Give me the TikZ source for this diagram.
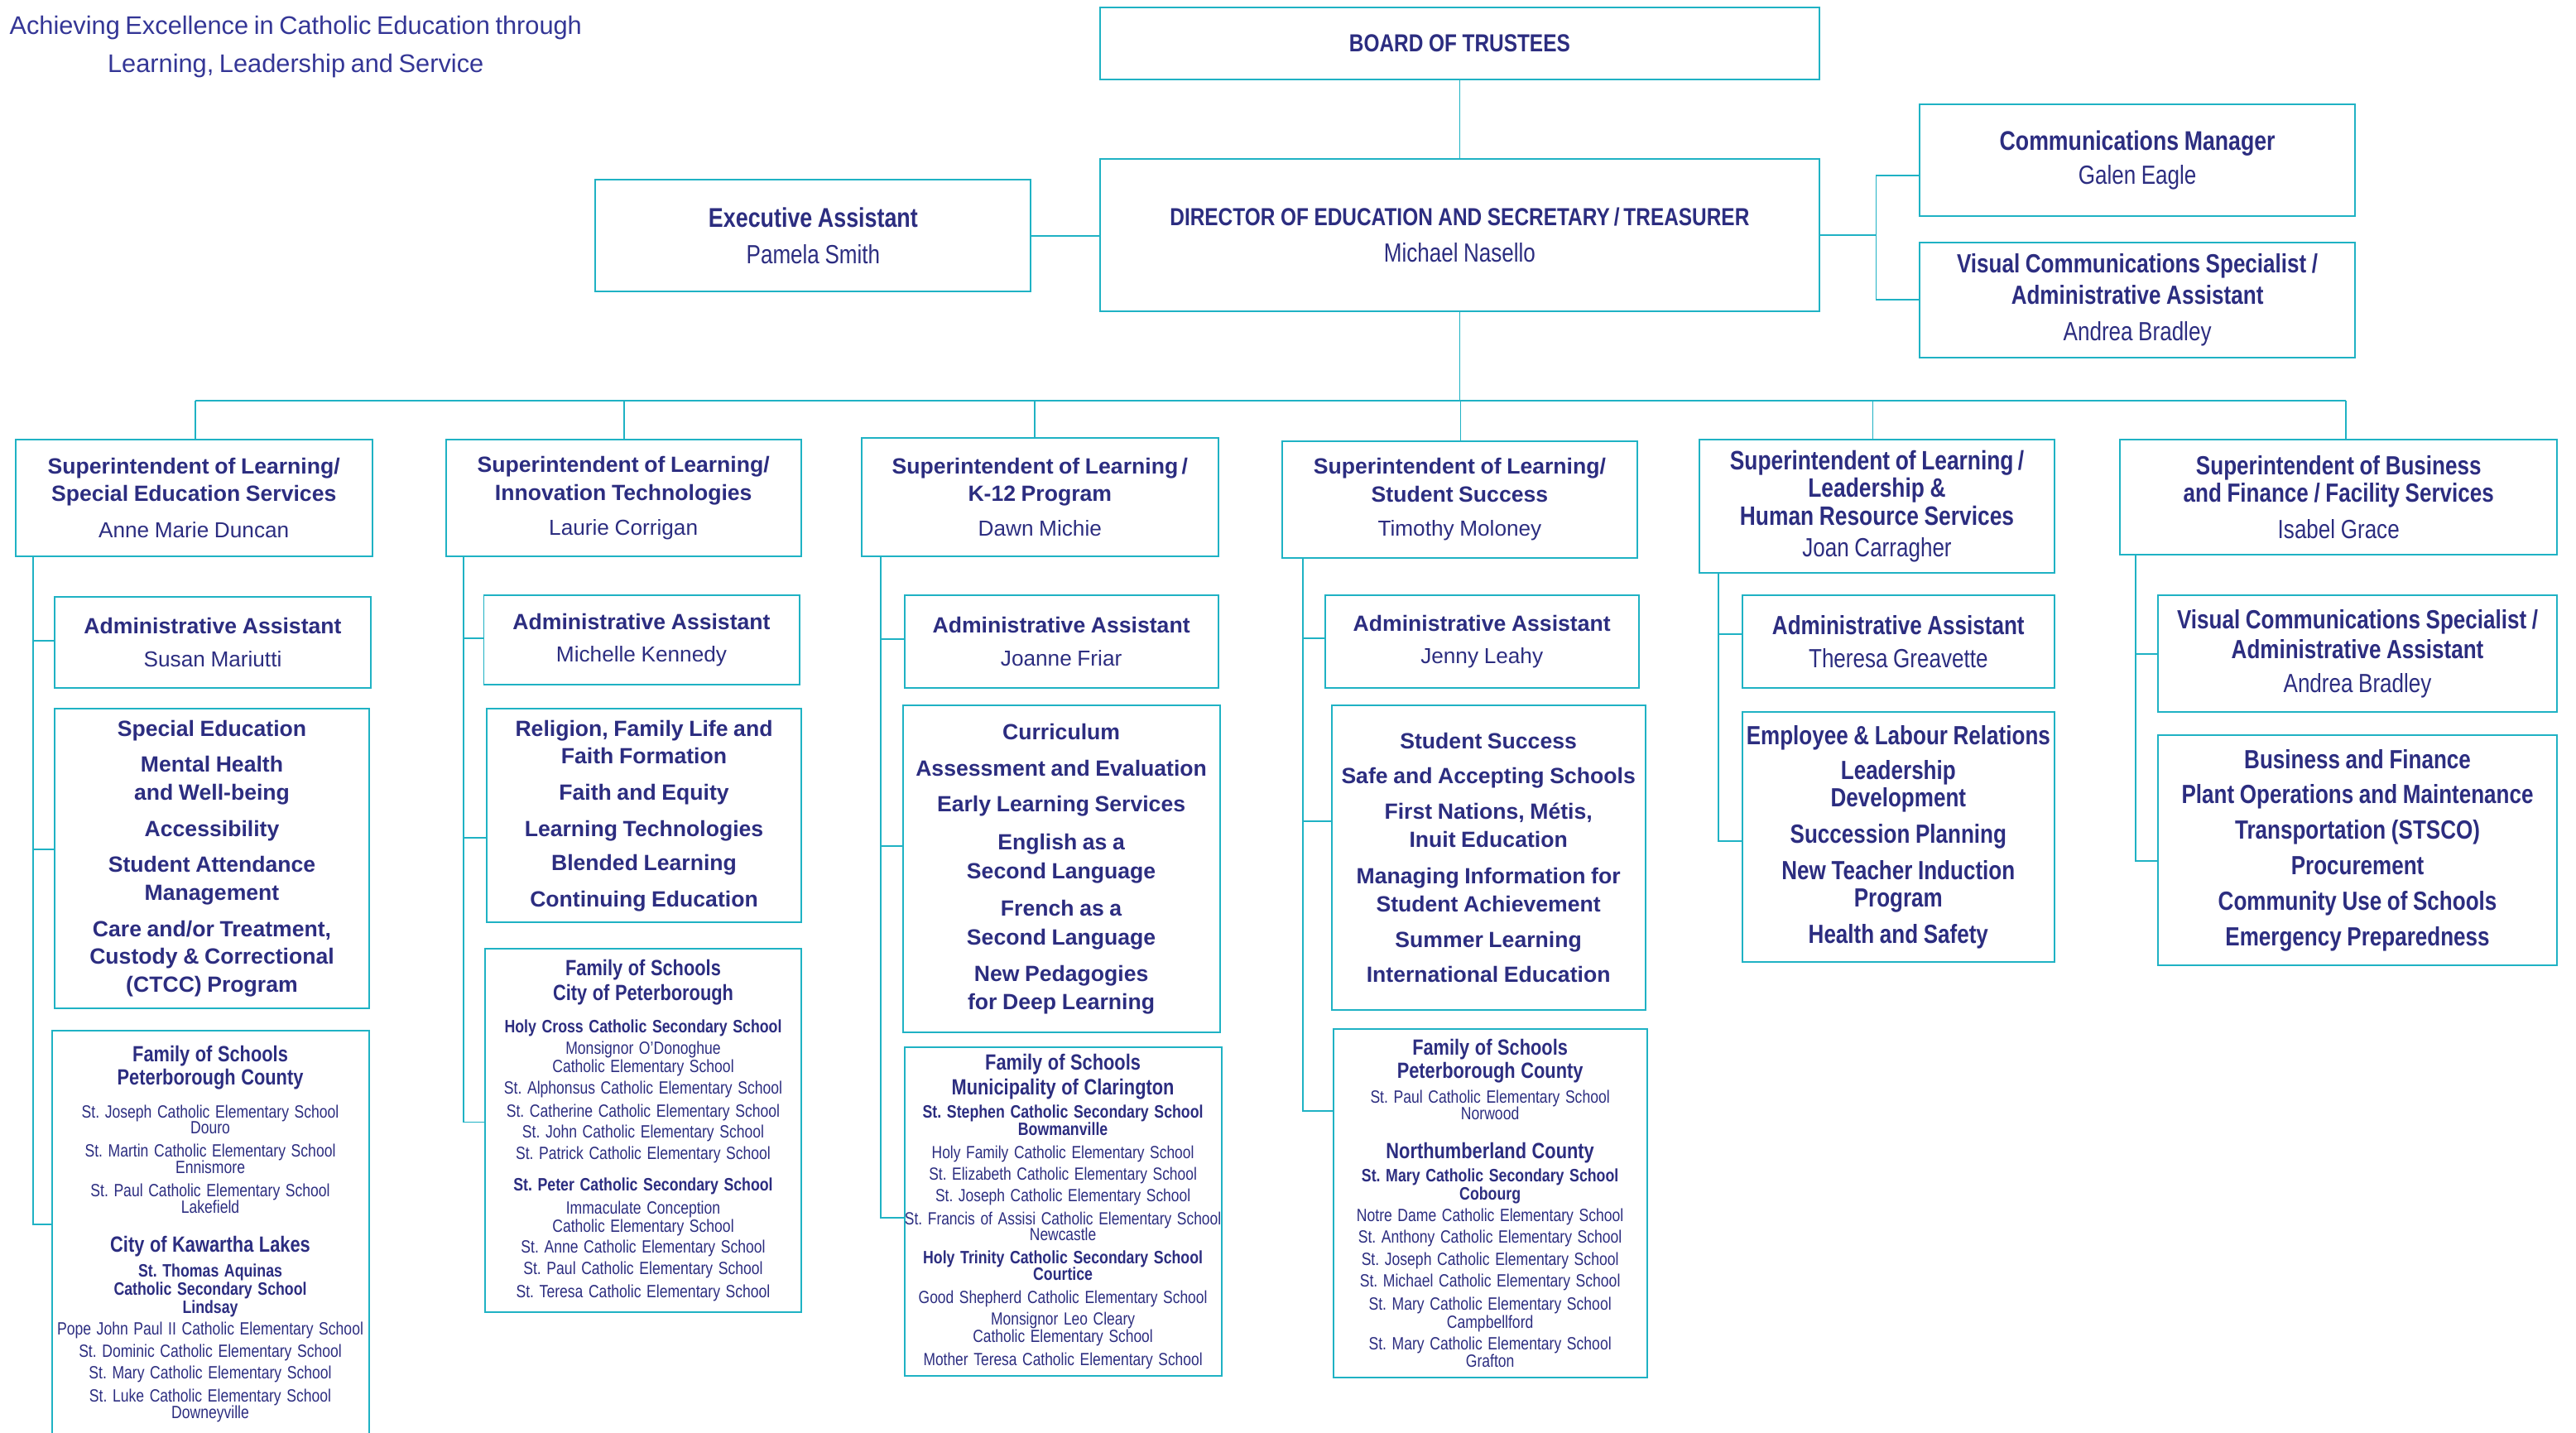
\documentclass[tikz,border=0pt]{standalone}
\usepackage{fontspec}
\setmainfont{Liberation Sans}
\newfontfamily\wide{Liberation Sans}
\newfontfamily\cond{Liberation Sans}[FakeStretch=0.82]
\usetikzlibrary{calc}
\frenchspacing
\definecolor{navy}{RGB}{44,45,128}
\definecolor{tagc}{RGB}{52,54,150}
\definecolor{bord}{RGB}{31,178,196}
\newcommand\fW[2]{\wide\bfseries\fontsize{#1}{#2}\selectfont}
\newcommand\fWn[2]{\wide\mdseries\fontsize{#1}{#2}\selectfont}
\newcommand\fC[2]{\cond\bfseries\fontsize{#1}{#2}\selectfont}
\newcommand\fCn[2]{\cond\mdseries\fontsize{#1}{#2}\selectfont}
\newcommand\skp[1]{\baselineskip=#1pt\relax}
\newcommand\bx[7]{\node[box, minimum width=#4pt, minimum height=#5pt, text width=#6pt] (#1) at (#2,#3) {\centering\frenchspacing\lineskiplimit=-30pt\lineskip=0pt #7\par};}
\begin{document}
\begin{tikzpicture}[x=1pt,y=-1pt,
  box/.style={draw=bord, line width=1pt, fill=white, inner xsep=-15pt, inner ysep=0pt, anchor=north west, text=navy},
  conn/.style={draw=bord, line width=0.9pt},
  tagline/.style={text=tagc, text width=400pt, inner sep=0pt, anchor=center}]
\useasboundingbox (0,0) rectangle (1568,872);
\fill[white] (0,0) rectangle (1568,872);
\clip (0,0) rectangle (1568,872);

\node[tagline] (tag) at (180,28.5) {\centering\fWn{15.5}{23}Achieving Excellence in Catholic Education through\\Learning, Leadership and Service\par};

% top level
\bx{board}{669}{4}{438}{44}{468}{\fC{15}{18}BOARD OF TRUSTEES}
\bx{dir}{669}{96}{438}{93}{468}{\fC{15}{18}DIRECTOR OF EDUCATION AND SECRETARY\,/\,TREASURER\\\fCn{16}{22}Michael Nasello}
\bx{exec}{362}{109}{265}{68}{295}{\fC{16.5}{18}Executive Assistant\\\fCn{16}{22}Pamela Smith}
\bx{comm}{1168}{63}{265}{68}{295}{\fC{16.4}{18}Communications Manager\\\fCn{16}{21}Galen Eagle}
\bx{vis}{1168}{147}{265}{70}{295}{\fC{16}{19}Visual Communications Specialist /\\Administrative Assistant\\\fCn{16}{22}Andrea Bradley}

% superintendents
\bx{s1}{9}{267}{217}{71}{247}{\fW{13.4}{17}Superintendent of Learning/\\Special Education Services\\\fWn{13.2}{22}Anne Marie Duncan}
\bx{s2}{271}{267}{216}{71}{246}{\fW{13.4}{17.5}Superintendent of Learning/\\Innovation Technologies\\\fWn{13.2}{21}Laurie Corrigan}
\bx{s3}{524}{266}{217}{72}{247}{\fW{13.4}{17}Superintendent of Learning\,/\\K-12 Program\\\fWn{13.2}{21}Dawn Michie}
\bx{s4}{780}{268}{216}{71}{246}{\fW{13.4}{17}Superintendent of Learning/\\Student Success\\\fWn{13.2}{21}Timothy Moloney}
\bx{s5}{1034}{267}{216}{81}{246}{\fC{16.2}{17}Superintendent of Learning\,/\\Leadership \&\\Human Resource Services\\\fCn{16}{19}Joan Carragher}
\bx{s6}{1290}{267}{266}{70}{296}{\fC{16}{17}Superintendent of Business\\and Finance / Facility Services\\\fCn{16}{22}Isabel Grace}

% admin assistants
\bx{a1}{33}{363}{192}{55}{222}{\fW{13.4}{20}Administrative Assistant\\\fWn{13.2}{20}Susan Mariutti}
\bx{a2}{294}{362}{192}{54}{222}{\fW{13.4}{20}Administrative Assistant\\\fWn{13.2}{20}Michelle Kennedy}
\bx{a3}{550}{362}{191}{56}{221}{\fW{13.4}{20}Administrative Assistant\\\fWn{13.2}{20}Joanne Friar}
\bx{a4}{806}{362}{191}{56}{221}{\fW{13.4}{20}Administrative Assistant\\\fWn{13.2}{20}Jenny Leahy}
\bx{a5}{1060}{362}{190}{56}{220}{\fC{16}{20}Administrative Assistant\\\fCn{16}{20}Theresa Greavette}
\bx{a6}{1313}{362}{243}{71}{273}{\fC{16}{18}Visual Communications Specialist /\\Administrative Assistant\\\fCn{16}{21}Andrea Bradley}

% portfolios
\bx{sp1}{33}{431}{191}{182}{221}{\fW{13.4}{17}Special Education\\[5pt]Mental Health\\and Well-being\\[5pt]Accessibility\\[5pt]Student Attendance\\Management\\[5pt]Care and/or Treatment,\\Custody \& Correctional\\(CTCC) Program}
\bx{sp2}{296}{431}{191}{130}{221}{\fW{13.4}{17}Religion, Family Life and\\Faith Formation\\[5pt]Faith and Equity\\[5pt]Learning Technologies\\[4pt]Blended Learning\\[5pt]Continuing Education}
\bx{sp3}{549}{429}{193}{199}{223}{\fW{13.4}{17.5}Curriculum\\[4.5pt]Assessment and Evaluation\\[4.5pt]Early Learning Services\\[5.5pt]English as a\\Second Language\\[5.5pt]French as a\\Second Language\\[4.5pt]New Pedagogies\\for Deep Learning}
\bx{sp4}{810}{429}{191}{185}{221}{\fW{13.4}{17}Student Success\\[4pt]Safe and Accepting Schools\\[5pt]First Nations, Métis,\\Inuit Education\\[5pt]Managing Information for\\Student Achievement\\[5pt]Summer Learning\\[4pt]International Education}
\bx{sp5}{1060}{433}{190}{152}{220}{\fC{16}{17}Employee \& Labour Relations\\[4pt]Leadership\\Development\\[5pt]Succession Planning\\[5pt]New Teacher Induction\\Program\\[5pt]Health and Safety}
\bx{sp6}{1313}{447}{243}{140}{273}{\fC{16}{21.6}Business and Finance\\Plant Operations and Maintenance\\Transportation (STSCO)\\Procurement\\Community Use of Schools\\Emergency Preparedness}

% families of schools
\bx{f1}{31}{627}{193}{247}{223}{\fC{13.4}{14}Family of Schools\\Peterborough County\\\fCn{10.8}{20}St. Joseph Catholic Elementary School\\\skp{10}Douro\\\skp{14}St. Martin Catholic Elementary School\\\skp{10}Ennismore\\\skp{14}St. Paul Catholic Elementary School\\\skp{10}Lakefield\\\fC{13.4}{24}City of Kawartha Lakes\\\fC{10.9}{15}St. Thomas Aquinas\\\skp{11}Catholic Secondary School\\Lindsay\\\fCn{10.8}{13}Pope John Paul II Catholic Elementary School\\\skp{14}St. Dominic Catholic Elementary School\\\skp{13}St. Mary Catholic Elementary School\\\skp{14}St. Luke Catholic Elementary School\\\skp{10}Downeyville}
\bx{f2}{295}{577}{192}{221}{222}{\fC{13.4}{15}Family of Schools\\City of Peterborough\\\fC{10.9}{20}Holy Cross Catholic Secondary School\\\fCn{10.8}{13}Monsignor O’Donoghue\\\skp{11}Catholic Elementary School\\\skp{13}St. Alphonsus Catholic Elementary School\\\skp{14}St. Catherine Catholic Elementary School\\\skp{13}St. John Catholic Elementary School\\St. Patrick Catholic Elementary School\\\fC{10.9}{19}St. Peter Catholic Secondary School\\\fCn{10.8}{14}Immaculate Conception\\\skp{11}Catholic Elementary School\\\skp{13}St. Anne Catholic Elementary School\\St. Paul Catholic Elementary School\\\skp{14}St. Teresa Catholic Elementary School}
\bx{f3}{550}{637}{193}{200}{223}{\fC{13.4}{15}Family of Schools\\Municipality of Clarington\\\fC{10.9}{14}St. Stephen Catholic Secondary School\\\skp{11}Bowmanville\\\fCn{10.7}{14}Holy Family Catholic Elementary School\\\skp{13}St. Elizabeth Catholic Elementary School\\St. Joseph Catholic Elementary School\\\skp{14}St. Francis of Assisi Catholic Elementary School\\\skp{10}Newcastle\\\fC{10.9}{14}Holy Trinity Catholic Secondary School\\\skp{10}Courtice\\\fCn{10.7}{14}Good Shepherd Catholic Elementary School\\\skp{13}Monsignor Leo Cleary\\\skp{11}Catholic Elementary School\\\skp{14}Mother Teresa Catholic Elementary School}
\bx{f4}{811}{626}{191}{212}{221}{\fC{13.4}{14}Family of Schools\\Peterborough County\\\fCn{10.8}{15}St. Paul Catholic Elementary School\\\skp{10}Norwood\\\fC{13.4}{24}Northumberland County\\\fC{10.9}{14}St. Mary Catholic Secondary School\\\skp{11}Cobourg\\\fCn{10.8}{13}Notre Dame Catholic Elementary School\\St. Anthony Catholic Elementary School\\\skp{14}St. Joseph Catholic Elementary School\\\skp{13}St. Michael Catholic Elementary School\\\skp{14}St. Mary Catholic Elementary School\\\skp{11}Campbellford\\\skp{13}St. Mary Catholic Elementary School\\\skp{11}Grafton}

% connectors: top
\draw[conn] (board.south) -- (dir.north);
\draw[conn] (exec.east) -- (exec.east -| dir.west);
\coordinate (rx) at (1142,0);
\draw[conn] (dir.east) -- (dir.east -| rx);
\draw[conn] ($(comm.north west)+(0,44)$) -- ($(comm.north west)+(-26,44)$) |- (vis.west);
\coordinate (b1) at (119,244);
\coordinate (b2) at (380,244);
\coordinate (b3) at (630,244);
\coordinate (b4) at (889,244);
\coordinate (b5) at (1140,244);
\coordinate (b6) at (1428,244);
\draw[conn] (dir.south) -- (dir.south |- b4);
\draw[conn] (b1) -- (b6);
\foreach \i in {1,...,6} \draw[conn] (b\i) -- (b\i |- s\i.north);

% spines
\coordinate (k1) at (20,0);
\coordinate (k2) at (282,0);
\coordinate (k3) at (536,0);
\coordinate (k4) at (793,0);
\coordinate (k5) at (1046,0);
\coordinate (k6) at (1300,0);
\draw[conn] (k1 |- s1.south) |- ($(a1.north west)+(0,27)$);
\draw[conn] (k1 |- s1.south) |- ($(sp1.north west)+(0,86)$);
\draw[conn] (k1 |- s1.south) |- ($(f1.north west)+(0,118)$);
\draw[conn] (k2 |- s2.south) |- ($(a2.north west)+(0,26.5)$);
\draw[conn] (k2 |- s2.south) |- ($(sp2.north west)+(0,79)$);
\draw[conn] (k2 |- s2.south) |- ($(f2.north west)+(0,106)$);
\draw[conn] (k3 |- s3.south) |- ($(a3.north west)+(0,27)$);
\draw[conn] (k3 |- s3.south) |- ($(sp3.north west)+(0,86)$);
\draw[conn] (k3 |- s3.south) |- ($(f3.north west)+(0,104)$);
\draw[conn] (k4 |- s4.south) |- ($(a4.north west)+(0,26.6)$);
\draw[conn] (k4 |- s4.south) |- ($(sp4.north west)+(0,71)$);
\draw[conn] (k4 |- s4.south) |- ($(f4.north west)+(0,50)$);
\draw[conn] (k5 |- s5.south) |- ($(a5.north west)+(0,24)$);
\draw[conn] (k5 |- s5.south) |- ($(sp5.north west)+(0,79)$);
\draw[conn] (k6 |- s6.south) |- ($(a6.north west)+(0,36)$);
\draw[conn] (k6 |- s6.south) |- ($(sp6.north west)+(0,77)$);
\end{tikzpicture}
\end{document}
